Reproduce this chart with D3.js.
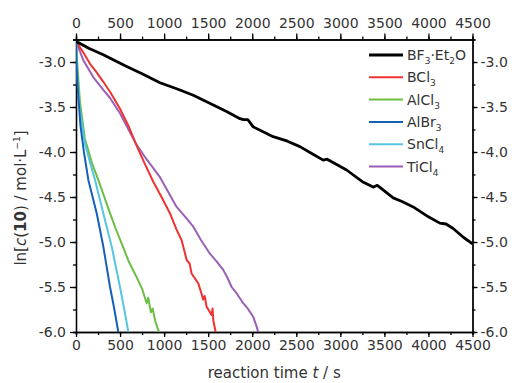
<!DOCTYPE html>
<html>
<head>
<meta charset="utf-8">
<script src="https://cdn.jsdelivr.net/npm/d3@7"></script>
<style>
  body { margin: 0; background: #fff; }
  text { font-family: "DejaVu Sans", sans-serif; fill: #333; }
  .axis path, .axis line { stroke: #000; stroke-width: 1.3; }
  .axis text { font-size: 14px; fill: #333; }
</style>
</head>
<body>
<div id="chart"></div>
<script>
// series values: [time in s, ln c]
var bf3Et2O = [[0,-2.77],[150,-2.85],[310,-2.92],[450,-2.99],[575,-3.05],[750,-3.13],[953,-3.23],
  [1150,-3.30],[1331,-3.37],[1500,-3.45],[1709,-3.55],[1861,-3.63],[1900,-3.64],[1950,-3.64],
  [2011,-3.72],[2238,-3.83],[2400,-3.88],[2541,-3.94],[2700,-4.03],[2806,-4.09],[2850,-4.08],
  [3071,-4.20],[3250,-4.33],[3373,-4.39],[3420,-4.37],[3600,-4.51],[3700,-4.55],[3827,-4.61],
  [4000,-4.72],[4129,-4.79],[4200,-4.80],[4280,-4.85],[4400,-4.95],[4500,-5.02]];
var bcl3 = [[0,-2.77],[80,-2.89],[159,-3.02],[230,-3.11],[310,-3.22],[386,-3.33],[499,-3.52],
  [600,-3.72],[688,-3.93],[780,-4.13],[877,-4.33],[960,-4.48],[1066,-4.68],[1140,-4.86],
  [1199,-4.98],[1256,-5.20],[1290,-5.24],[1312,-5.35],[1388,-5.46],[1420,-5.56],[1444,-5.64],
  [1460,-5.60],[1482,-5.72],[1539,-5.81],[1550,-5.74],[1558,-5.87],[1585,-6.0]];
var alcl3 = [[0,-2.77],[20,-3.10],[45,-3.44],[100,-3.85],[180,-4.12],[253,-4.31],[386,-4.68],
  [450,-4.85],[520,-5.02],[600,-5.22],[688,-5.39],[750,-5.52],[802,-5.68],[820,-5.62],
  [850,-5.78],[870,-5.74],[900,-5.88],[934,-5.98],[945,-6.0]];
var albr3 = [[0,-2.77],[5,-3.00],[20,-3.30],[50,-3.70],[90,-4.00],[140,-4.31],[235,-4.68],
  [310,-5.05],[386,-5.50],[430,-5.72],[480,-6.0]];
var sncl4 = [[0,-2.77],[10,-3.10],[40,-3.50],[100,-3.90],[160,-4.12],[216,-4.31],[310,-4.68],
  [405,-5.05],[499,-5.50],[550,-5.76],[594,-6.0]];
var ticl4 = [[0,-2.77],[83,-2.98],[197,-3.17],[310,-3.31],[386,-3.40],[499,-3.57],[600,-3.76],
  [688,-3.92],[800,-4.08],[877,-4.18],[953,-4.28],[1050,-4.45],[1142,-4.61],[1240,-4.72],
  [1331,-4.83],[1420,-4.98],[1520,-5.13],[1600,-5.22],[1671,-5.31],[1720,-5.40],[1766,-5.50],
  [1830,-5.58],[1898,-5.68],[1950,-5.74],[2011,-5.83],[2050,-5.94],[2068,-6.0]];

var seriesNames = ["BF3·Et2O", "BCl3", "AlCl3", "AlBr3", "SnCl4", "TiCl4"];
var seriesData = [bf3Et2O, bcl3, alcl3, albr3, sncl4, ticl4];

var xTicks = [0, 500, 1000, 1500, 2000, 2500, 3000, 3500, 4000, 4500];
var yTicks = [-6.0, -5.5, -5.0, -4.5, -4.0, -3.5, -3.0];

// styles
var colors = ["#000000", "#ee3330", "#6cbd45", "#1560b8", "#55c6e2", "#9b5fb7"];
var widths = [2.8, 2, 2, 2, 2, 2];

var w = 512, h = 383;
var margin = {top: 39.5, right: 39.5, bottom: 51, left: 76};

var svg = d3.select("#chart").append("svg")
  .attr("width", w)
  .attr("height", h);

var xScale = d3.scaleLinear()
  .domain([0, 4500])
  .range([margin.left, w - margin.right]);

var yScale = d3.scaleLinear()
  .domain([-6, -2.75])
  .range([h - margin.bottom, margin.top]);

var fmtY = function(d) { return d.toFixed(1); };
var fmtX = function(d) { return String(d); };
var xMinor = d3.range(0, 4501, 250);
var yMinor = d3.range(-6, -2.74, 0.25);

// minor ticks first
svg.append("g").attr("class", "axis")
  .attr("transform", "translate(0," + yScale.range()[0] + ")")
  .call(d3.axisBottom(xScale).tickValues(xMinor).tickSize(3).tickFormat(""));
svg.append("g").attr("class", "axis")
  .attr("transform", "translate(0," + yScale.range()[1] + ")")
  .call(d3.axisTop(xScale).tickValues(xMinor).tickSize(3).tickFormat(""));
svg.append("g").attr("class", "axis")
  .attr("transform", "translate(" + xScale.range()[0] + ",0)")
  .call(d3.axisLeft(yScale).tickValues(yMinor).tickSize(3).tickFormat(""));
svg.append("g").attr("class", "axis")
  .attr("transform", "translate(" + xScale.range()[1] + ",0)")
  .call(d3.axisRight(yScale).tickValues(yMinor).tickSize(3).tickFormat(""));

// major ticks
svg.append("g").attr("class", "axis")
  .attr("transform", "translate(0," + yScale.range()[0] + ")")
  .call(d3.axisBottom(xScale).tickValues(xTicks).tickSize(5).tickSizeOuter(0).tickPadding(3).tickFormat(fmtX));
svg.append("g").attr("class", "axis")
  .attr("transform", "translate(0," + yScale.range()[1] + ")")
  .call(d3.axisTop(xScale).tickValues(xTicks).tickSize(6).tickSizeOuter(0).tickPadding(6).tickFormat(fmtX));
svg.append("g").attr("class", "axis")
  .attr("transform", "translate(" + xScale.range()[0] + ",0)")
  .call(d3.axisLeft(yScale).tickValues(yTicks).tickSize(6).tickSizeOuter(0).tickPadding(4).tickFormat(fmtY));
svg.append("g").attr("class", "axis")
  .attr("transform", "translate(" + xScale.range()[1] + ",0)")
  .call(d3.axisRight(yScale).tickValues(yTicks).tickSize(5).tickSizeOuter(0).tickPadding(3).tickFormat(fmtY));

svg.append("clipPath")
  .attr("id", "plot-area")
  .append("rect")
  .attr("x", xScale.range()[0])
  .attr("y", yScale.range()[1])
  .attr("width", xScale.range()[1] - xScale.range()[0])
  .attr("height", yScale.range()[0] - yScale.range()[1]);

var line = d3.line()
  .x(function(d) { return xScale(d[0]); })
  .y(function(d) { return yScale(d[1]); });

// draw the slow ones last so black sits on top
[5, 1, 2, 4, 3, 0].forEach(function(i) {
  svg.append("path")
    .datum(seriesData[i])
    .attr("clip-path", "url(#plot-area)")
    .attr("fill", "none")
    .attr("stroke", colors[i])
    .attr("stroke-width", widths[i])
    .attr("stroke-linejoin", "round")
    .attr("d", line);
});

// legend
var legend = svg.append("g");
seriesNames.forEach(function(name, i) {
  var ly = 55 + i * 22.3;
  legend.append("line")
    .attr("x1", 369).attr("x2", 403)
    .attr("y1", ly).attr("y2", ly)
    .attr("stroke", colors[i])
    .attr("stroke-width", i === 0 ? 3 : 2);
  var t = legend.append("text")
    .attr("x", 407)
    .attr("y", ly + 5)
    .style("font-size", "14px");
  var sub = false;
  name.split(/(\d)/).forEach(function(part) {
    if (part === "") return;
    var isSub = /\d/.test(part);
    var ts = t.append("tspan").text(part);
    if (isSub) {
      ts.attr("dy", 4).style("font-size", "9px");
      sub = true;
    } else if (sub) {
      ts.attr("dy", -4);
      sub = false;
    }
  });
});

// axis titles
var xt = svg.append("text")
  .attr("x", (xScale.range()[0] + xScale.range()[1]) / 2)
  .attr("y", 378)
  .attr("text-anchor", "middle")
  .style("font-size", "15px");
xt.append("tspan").text("reaction time ");
xt.append("tspan").style("font-style", "italic").text("t");
xt.append("tspan").text(" / s");

var yt = svg.append("text")
  .attr("transform", "translate(26,198) rotate(-90)")
  .attr("text-anchor", "middle")
  .style("font-size", "15px");
yt.append("tspan").text("ln[");
yt.append("tspan").style("font-style", "italic").text("c");
yt.append("tspan").text("(");
yt.append("tspan").style("font-weight", "bold").text("10");
yt.append("tspan").text(") / mol·L");
yt.append("tspan").attr("dy", -6).style("font-size", "9px").text("−1");
yt.append("tspan").attr("dy", 6).text("]");
</script>
</body>
</html>
